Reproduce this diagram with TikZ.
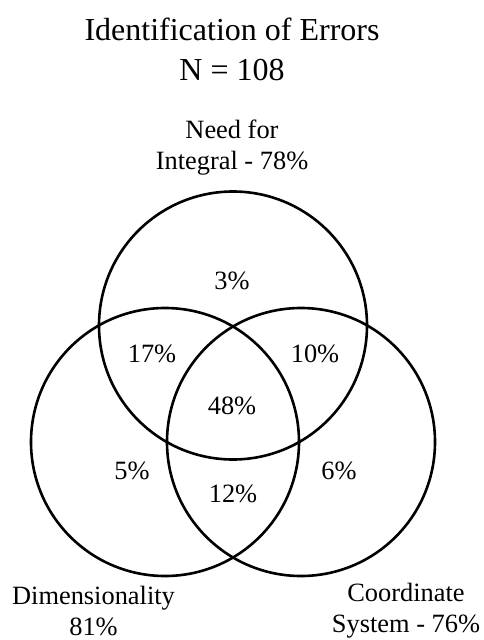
\documentclass[tikz,border=0pt]{standalone}
\usepackage{fontspec}
\setmainfont{Liberation Serif}
\begin{document}
\begin{tikzpicture}[x=1pt,y=-1pt,
  ring/.style={line width=2.6pt},
  lab/.style={font=\fontsize{26.4}{31}\selectfont, align=center, inner sep=0pt},
  ttl/.style={font=\fontsize{32}{40}\selectfont, align=center, inner sep=0pt}]
\useasboundingbox (0,0) rectangle (483,640);
\coordinate (ctop) at (233,325.5);
\coordinate (cleft) at (165,442);
\coordinate (cright) at (301,442);
\draw[ring] (ctop) circle (134);
\draw[ring] (cleft) circle (134);
\draw[ring] (cright) circle (134);
\node[ttl] (title) at (232,49) {Identification of Errors\\N = 108};
\node[lab] (need) at (232,148) {Need for\\Integral - 78\%};
\node[lab] (dim) at (93.5,611) {Dimensionality\\81\%};
\node[lab] (coord) at (406,611) {Coordinate\\System - 76\%};
\node[lab] (a) at (232,281) {3\%};
\node[lab] (b) at (152,354) {17\%};
\node[lab] (c) at (315,354) {10\%};
\node[lab] (d) at (232,406) {48\%};
\node[lab] (e) at (132,471) {5\%};
\node[lab] (f) at (339,471) {6\%};
\node[lab] (g) at (233,494) {12\%};
\end{tikzpicture}
\end{document}
